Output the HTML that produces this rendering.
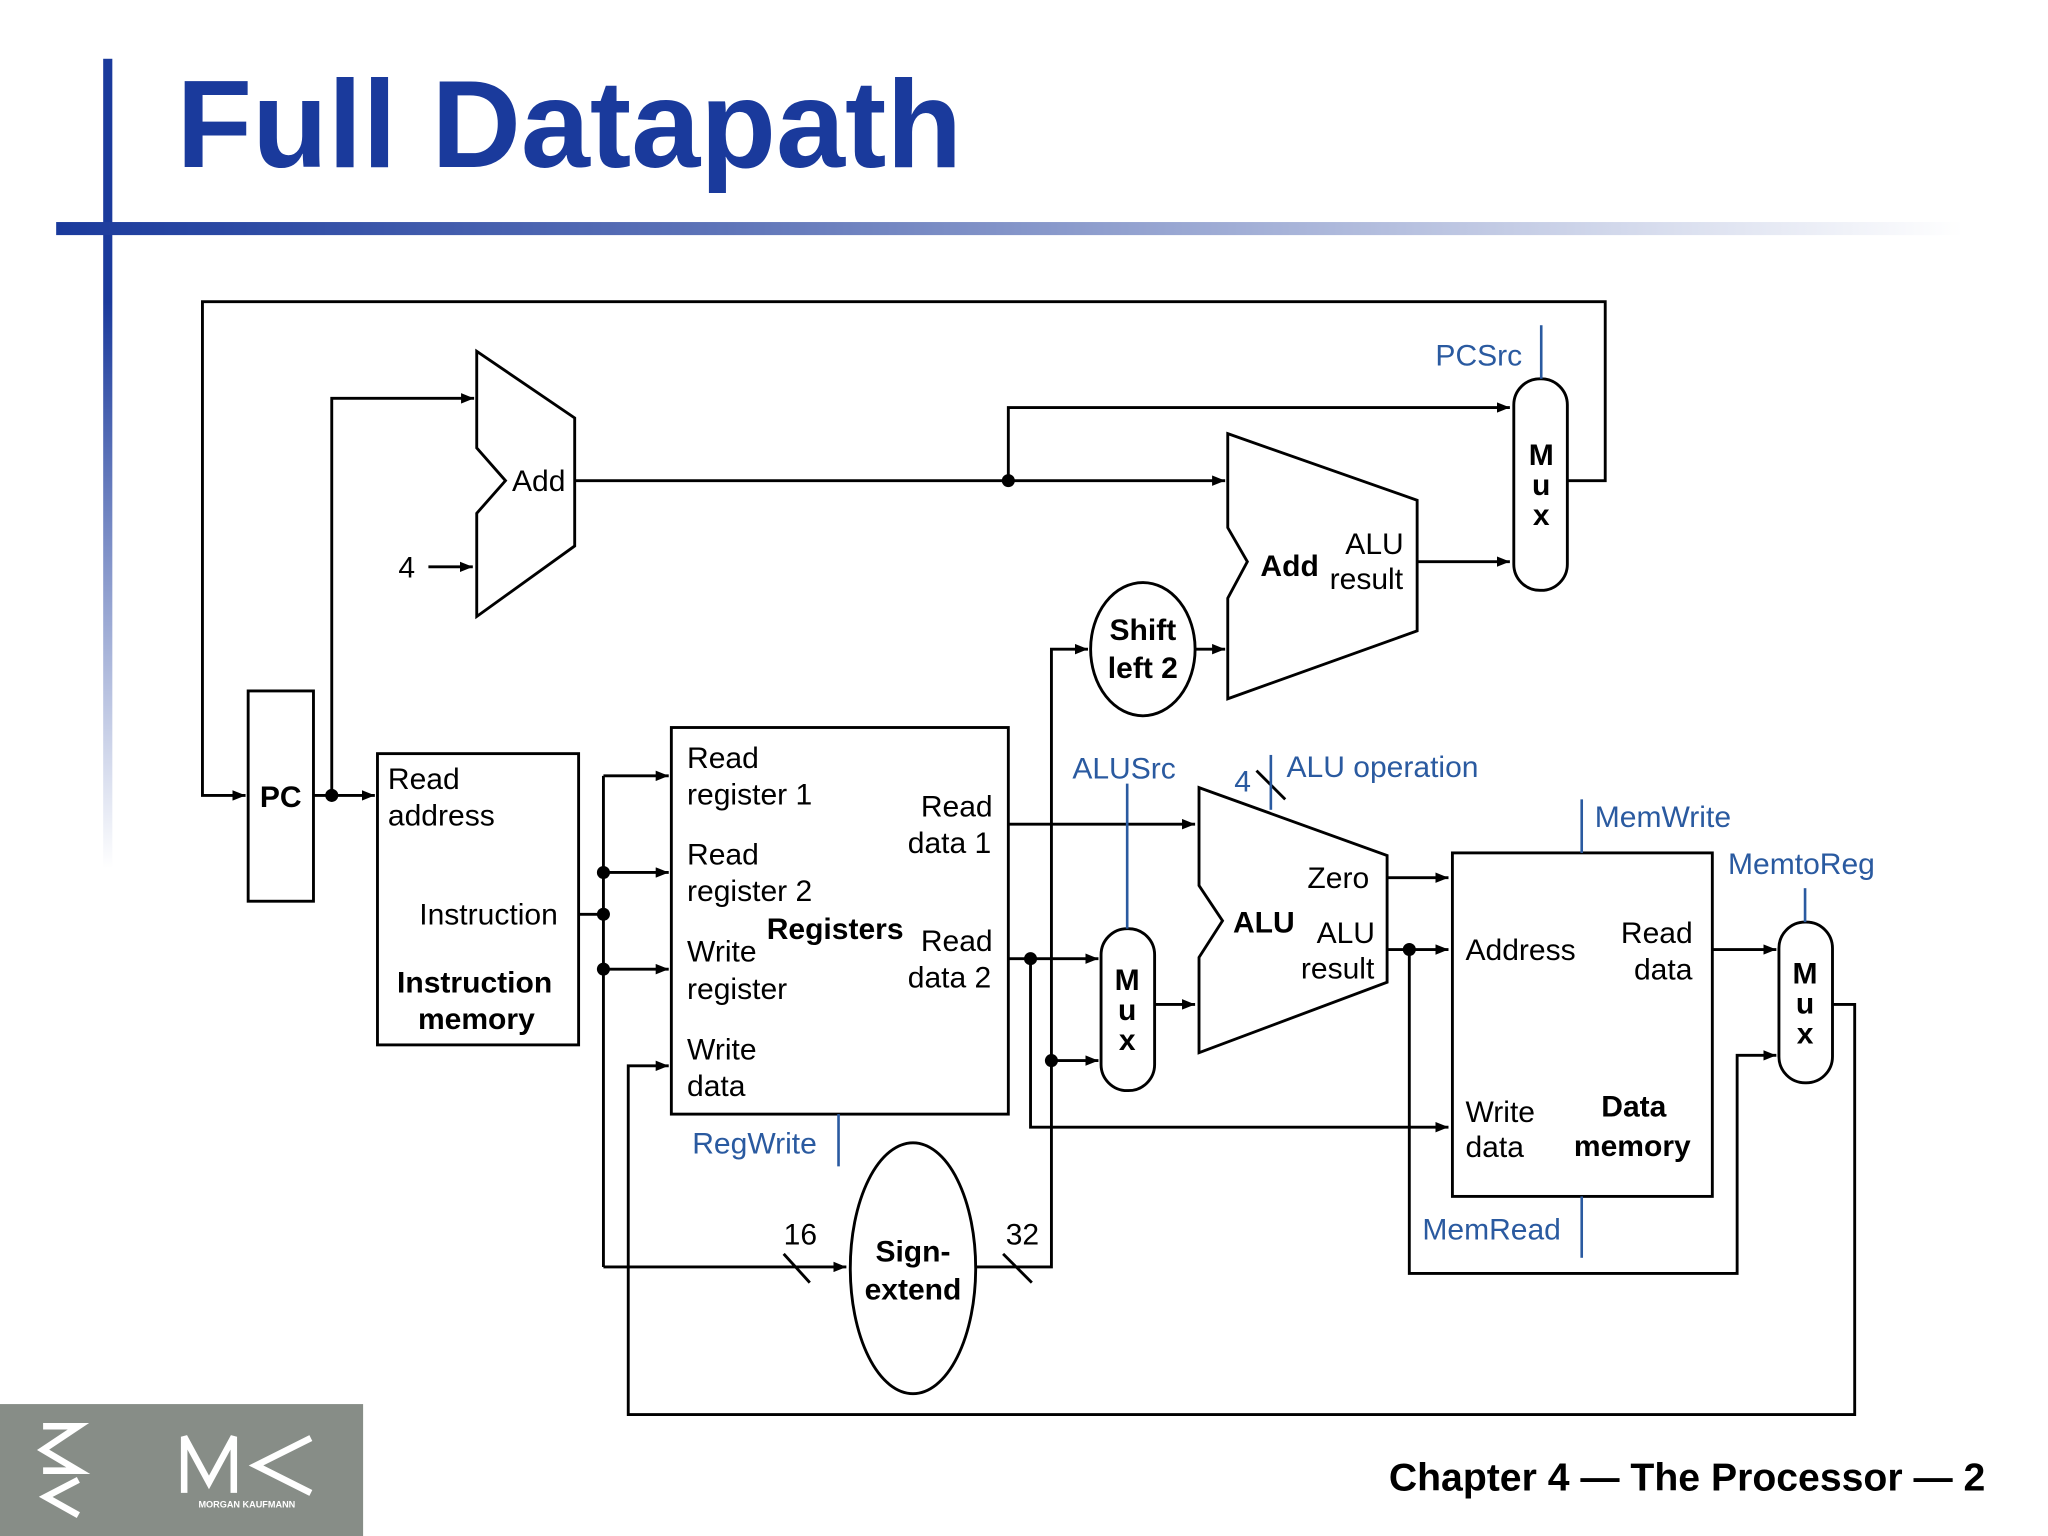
<!DOCTYPE html>
<html><head><meta charset="utf-8"><style>
html,body{margin:0;padding:0;background:#fff;}
svg{display:block;}
text{font-family:"Liberation Sans",Arial,sans-serif;}
</style></head><body>
<svg width="2048" height="1536" viewBox="0 0 1568 1176" xmlns="http://www.w3.org/2000/svg">
<defs>
<linearGradient id="hb" x1="0" x2="1" y1="0" y2="0">
<stop offset="0" stop-color="#1a3a9c"/><stop offset="0.35" stop-color="#5e74b8"/><stop offset="1" stop-color="#ffffff"/>
</linearGradient>
<linearGradient id="vb" x1="0" x2="0" y1="0" y2="1">
<stop offset="0" stop-color="#1a3a9c"/><stop offset="0.3" stop-color="#1a3a9c"/><stop offset="1" stop-color="#ffffff"/>
</linearGradient>
<marker id="a" markerWidth="10" markerHeight="8" refX="10" refY="4" orient="auto" markerUnits="userSpaceOnUse">
<path d="M0,0 L10,4 L0,8 z" fill="#000"/></marker>
</defs>
<rect x="79" y="45" width="7" height="620" fill="url(#vb)"/>
<rect x="43" y="170" width="1460" height="10" fill="url(#hb)"/>
<text x="135" y="128" font-size="95" font-weight="bold" fill="#1a3a9c">Full Datapath</text>

<g stroke="#000" stroke-width="2.2" fill="none">
<!-- top loop -->
<polyline points="1200,368 1229,368 1229,231 155,231 155,609 188,609" marker-end="url(#a)"/>
<rect x="190" y="529" width="50" height="161"/>
<line x1="240" y1="609" x2="287" y2="609" marker-end="url(#a)"/>
<polyline points="254,609 254,305 363,305" marker-end="url(#a)"/>
<polygon points="365,269 440,320 440,418 365,472 365,393 387,368 365,343"/>
<line x1="328" y1="434" x2="362" y2="434" marker-end="url(#a)"/>
<line x1="440" y1="368" x2="938" y2="368" marker-end="url(#a)"/>
<polyline points="772,368 772,312 1156,312" marker-end="url(#a)"/>
<polygon points="940,332 1085,383 1085,483 940,535 940,458 955,430 940,404"/>
<line x1="1085" y1="430" x2="1156" y2="430" marker-end="url(#a)"/>
<rect x="1159" y="290" width="41" height="162" rx="20"/>
<ellipse cx="875" cy="497" rx="40" ry="51"/>
<line x1="915" y1="497" x2="938" y2="497" marker-end="url(#a)"/>
<polyline points="748,970 805,970 805,497 833,497" marker-end="url(#a)"/>
<rect x="289" y="577" width="154" height="223"/>
<line x1="443" y1="700" x2="462" y2="700"/>
<line x1="462" y1="594" x2="462" y2="970"/>
<line x1="462" y1="594" x2="512" y2="594" marker-end="url(#a)"/>
<line x1="462" y1="668" x2="512" y2="668" marker-end="url(#a)"/>
<line x1="462" y1="742" x2="512" y2="742" marker-end="url(#a)"/>
<line x1="462" y1="970" x2="648" y2="970" marker-end="url(#a)"/>
<line x1="600" y1="960" x2="620" y2="982"/>
<line x1="768" y1="960" x2="790" y2="982"/>
<rect x="514" y="557" width="258" height="296"/>
<polyline points="1403,769 1420,769 1420,1083 481,1083 481,816 512,816" marker-end="url(#a)"/>
<ellipse cx="699" cy="971" rx="48" ry="96"/>
<line x1="772" y1="631" x2="915" y2="631" marker-end="url(#a)"/>
<line x1="772" y1="734" x2="841" y2="734" marker-end="url(#a)"/>
<polyline points="789,734 789,863 1109,863" marker-end="url(#a)"/>
<line x1="805" y1="812" x2="841" y2="812" marker-end="url(#a)"/>
<rect x="843" y="711" width="41" height="124" rx="20"/>
<line x1="884" y1="769" x2="915" y2="769" marker-end="url(#a)"/>
<polygon points="918,603 1062,655 1062,752 918,806 918,733 936,705 918,678"/>
<line x1="1062" y1="672" x2="1109" y2="672" marker-end="url(#a)"/>
<line x1="1062" y1="727" x2="1109" y2="727" marker-end="url(#a)"/>
<polyline points="1079,727 1079,975 1330,975 1330,808 1360,808" marker-end="url(#a)"/>
<rect x="1112" y="653" width="199" height="263"/>
<line x1="1311" y1="727" x2="1360" y2="727" marker-end="url(#a)"/>
<rect x="1362" y="706" width="41" height="123" rx="20"/>
<line x1="962" y1="590" x2="984" y2="612"/>
</g>
<g fill="#000">
<circle cx="254" cy="609" r="5"/><circle cx="772" cy="368" r="5"/>
<circle cx="462" cy="668" r="5"/><circle cx="462" cy="700" r="5"/><circle cx="462" cy="742" r="5"/>
<circle cx="789" cy="734" r="5"/><circle cx="805" cy="812" r="5"/><circle cx="1079" cy="727" r="5"/>
</g>
<g stroke="#2a5aa0" stroke-width="2" fill="none">
<line x1="1180" y1="249" x2="1180" y2="290"/>
<line x1="642" y1="853" x2="642" y2="893"/>
<line x1="863" y1="600" x2="863" y2="711"/>
<line x1="973" y1="578" x2="973" y2="620"/>
<line x1="1211" y1="612" x2="1211" y2="653"/>
<line x1="1211" y1="916" x2="1211" y2="963"/>
<line x1="1382" y1="680" x2="1382" y2="706"/>
</g>
<g font-size="23" fill="#000">
<text x="392" y="376">Add</text>
<text x="305" y="442">4</text>
<text x="1030" y="424">ALU</text><text x="1018" y="451">result</text>
<text x="297" y="604">Read</text><text x="297" y="632">address</text>
<text x="321" y="708">Instruction</text>
<text x="526" y="588">Read</text><text x="526" y="616">register 1</text>
<text x="705" y="625">Read</text><text x="695" y="653">data 1</text>
<text x="526" y="662">Read</text><text x="526" y="690">register 2</text>
<text x="526" y="736">Write</text><text x="526" y="765">register</text>
<text x="705" y="728">Read</text><text x="695" y="756">data 2</text>
<text x="526" y="811">Write</text><text x="526" y="839">data</text>
<text x="600" y="953">16</text><text x="770" y="953">32</text>
<text x="1001" y="680">Zero</text><text x="1008" y="722">ALU</text><text x="996" y="749">result</text>
<text x="1122" y="735">Address</text><text x="1241" y="722">Read</text><text x="1251" y="750">data</text>
<text x="1122" y="859">Write</text><text x="1122" y="886">data</text>
</g>
<g font-size="23" font-weight="bold" fill="#000">
<text x="965" y="441">Add</text>
<text x="199" y="618">PC</text>
<text x="875" y="490" text-anchor="middle">Shift</text><text x="875" y="519" text-anchor="middle">left 2</text>
<text x="304" y="760">Instruction</text><text x="320" y="788">memory</text>
<text x="587" y="719">Registers</text>
<text x="699" y="966" text-anchor="middle">Sign-</text><text x="699" y="995" text-anchor="middle">extend</text>
<text x="944" y="714">ALU</text>
<text x="1226" y="855">Data</text><text x="1205" y="885">memory</text>
<text x="1180" y="356" text-anchor="middle">M</text><text x="1180" y="379" text-anchor="middle">u</text><text x="1180" y="402" text-anchor="middle">x</text>
<text x="863" y="758" text-anchor="middle">M</text><text x="863" y="781" text-anchor="middle">u</text><text x="863" y="804" text-anchor="middle">x</text>
<text x="1382" y="753" text-anchor="middle">M</text><text x="1382" y="776" text-anchor="middle">u</text><text x="1382" y="799" text-anchor="middle">x</text>
</g>
<g font-size="23" fill="#2a5aa0">
<text x="1099" y="280">PCSrc</text>
<text x="530" y="883">RegWrite</text>
<text x="821" y="596">ALUSrc</text>
<text x="945" y="606">4</text>
<text x="985" y="595">ALU operation</text>
<text x="1221" y="633">MemWrite</text>
<text x="1323" y="669">MemtoReg</text>
<text x="1089" y="949">MemRead</text>
</g>
<text x="1520" y="1141" font-size="30" font-weight="bold" text-anchor="end" fill="#000">Chapter 4 — The Processor — 2</text>
<rect x="0" y="1075" width="278" height="101" fill="#878d87"/>
<g fill="none" stroke="#fff" stroke-width="5">
<polyline points="33,1092 60,1092 33,1110 60,1126 33,1126"/>
<polyline points="60,1133 35,1146 60,1160"/>
<polyline points="141,1143 141,1100 160,1135 179,1100 179,1143"/>
<polyline points="238,1101 196,1122 238,1143"/>
</g>
<text x="189" y="1154" font-size="7" font-weight="bold" fill="#fff" text-anchor="middle">MORGAN KAUFMANN</text>
</svg>
</body></html>
